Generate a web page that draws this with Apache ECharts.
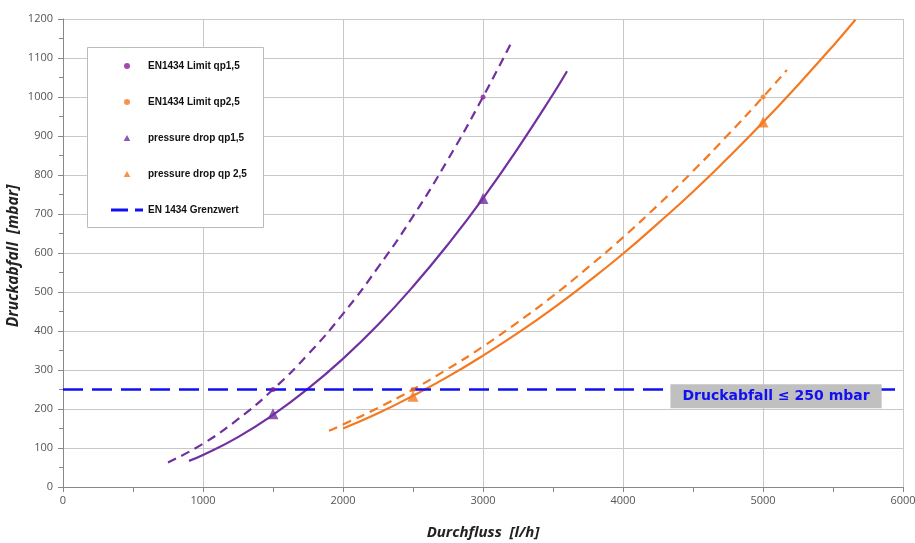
<!DOCTYPE html>
<html><head><meta charset="utf-8">
<script src="https://cdn.jsdelivr.net/npm/echarts@6/dist/echarts.min.js"></script>
<style>html,body{margin:0;padding:0;background:#fff}#c{width:915px;height:543px}</style>
</head><body><div id="c"></div>
<script>
// Read-off values (flow l/h, pressure drop mbar)
const limitQp15Curve = [[750,63],[1000,111],[1250,174],[1500,250],[1750,340],[2000,444],[2250,563],[2500,694],[2750,840],[3000,1000],[3200,1138]];
const dropQp15Curve = [[900,67],[1000,82],[1250,128],[1500,185],[1750,252],[2000,329],[2250,416],[2500,514],[2750,622],[3000,740],[3250,869],[3500,1007],[3600,1066]];
const limitQp25Curve = [[1900,144],[2000,160],[2250,203],[2500,250],[2750,303],[3000,360],[3250,423],[3500,490],[3750,563],[4000,640],[4250,723],[4500,810],[4750,903],[5000,1000],[5170,1069]];
const dropQp25Curve = [[2000,150],[2250,189],[2500,234],[2750,283],[3000,337],[3250,395],[3500,458],[3750,526],[4000,598],[4250,676],[4500,757],[4750,844],[5000,935],[5250,1031],[5500,1131],[5660,1198]];
const limitQp15Points = [[1500,250],[3000,1000]];
const limitQp25Points = [[2500,250],[5000,1000]];
const dropQp15Points = [[1500,188],[3000,740]];
const dropQp25Points = [[2500,233],[5000,936]];
const thresholdLine = [[0,250],[6000,250]];
const thresholdLabel = 'Druckabfall ≤ 250 mbar';
const thresholdLabelAt = [5093,233];
const yAxisTitle = 'Druckabfall  [mbar]';
const xAxisTitle = 'Durchfluss  [l/h]';

const purple = '#7030A0', orange = '#F47920', blue = '#1010F0';
const tri = 'path://M5,0 L10,9 L0,9 Z';
const dashIcon = 'path://M0,0h17v3h-17z M24,0h8v3h-8z';
const titleFont = {fontFamily:'Open Sans, sans-serif',fontStyle:'italic',fontWeight:'bold',fontSize:15,color:'#222'};
const chart = echarts.init(document.getElementById('c'));
chart.setOption({
  animation:false,
  textStyle:{fontFamily:'Liberation Sans, Arial, sans-serif'},
  grid:{left:63,right:12,top:19,bottom:56,containLabel:false,outerBoundsMode:'none'},
  xAxis:{type:'value',min:0,max:6000,interval:1000,
    name:xAxisTitle,nameLocation:'middle',nameGap:38,
    nameTextStyle:titleFont,
    axisLine:{lineStyle:{color:'#888'}},axisTick:{show:true,length:5,lineStyle:{color:'#888'}},
    minorTick:{show:true,splitNumber:2,length:5,lineStyle:{color:'#888'}},
    axisLabel:{color:'#555',fontSize:11,fontFamily:'Open Sans, sans-serif',margin:8,formatter:v=>String(v)},
    splitLine:{show:true,lineStyle:{color:'#c8c8c8'}}},
  yAxis:{type:'value',min:0,max:1200,interval:100,
    axisLine:{show:true,lineStyle:{color:'#888'}},axisTick:{show:true,length:5,lineStyle:{color:'#888'}},
    minorTick:{show:true,splitNumber:2,length:4,lineStyle:{color:'#888'}},
    axisLabel:{color:'#555',fontSize:11,fontFamily:'Open Sans, sans-serif',margin:10,formatter:v=>String(v)},
    splitLine:{show:true,lineStyle:{color:'#c8c8c8'}}},
  graphic:[
    {type:'rect',left:87,top:47,shape:{width:176,height:180},
      style:{fill:'#fff',stroke:'#bbb',lineWidth:1},z:90},
    {type:'text',x:14,y:256,rotation:Math.PI/2,
      style:{text:yAxisTitle,textAlign:'center',textVerticalAlign:'middle',fill:'#222',
        font:'italic bold 15.5px "Open Sans", sans-serif'},z:50}],
  legend:{orient:'vertical',left:111,top:61,padding:0,itemWidth:32,itemHeight:6,itemGap:26,z:100,symbolKeepAspect:true,
    textStyle:{fontSize:10,fontWeight:'bold',color:'#111'},
    data:[
      {name:'EN1434 Limit qp1,5',icon:'circle'},
      {name:'EN1434 Limit qp2,5',icon:'circle'},
      {name:'pressure drop qp1,5',icon:tri},
      {name:'pressure drop qp 2,5',icon:tri},
      {name:'EN 1434 Grenzwert',icon:dashIcon}]},
  series:[
    {type:'line',data:limitQp15Curve,smooth:true,symbol:'none',lineStyle:{color:purple,width:2.2,type:[9,6]},silent:true},
    {type:'line',data:dropQp15Curve,smooth:true,symbol:'none',lineStyle:{color:purple,width:2.2},silent:true},
    {type:'line',data:limitQp25Curve,smooth:true,symbol:'none',lineStyle:{color:orange,width:2.2,type:[9,6]},silent:true},
    {type:'line',data:dropQp25Curve,smooth:true,symbol:'none',lineStyle:{color:orange,width:2.2},silent:true},
    {name:'EN 1434 Grenzwert',type:'line',data:thresholdLine,symbol:'none',itemStyle:{color:blue},
      lineStyle:{color:blue,width:2.6,type:[20,9]},
      markPoint:{symbol:'rect',symbolSize:0,data:[{coord:thresholdLabelAt,value:thresholdLabel}],
        label:{show:true,formatter:thresholdLabel,color:blue,fontWeight:'bold',fontSize:14,
          backgroundColor:'#c0c0c0',padding:[5,12,5,12],fontFamily:'DejaVu Sans, sans-serif'}}},
    {name:'EN1434 Limit qp1,5',type:'scatter',data:limitQp15Points,symbol:'circle',symbolSize:5,itemStyle:{color:'#8B1A9A'},z:5},
    {name:'EN1434 Limit qp2,5',type:'scatter',data:limitQp25Points,symbol:'circle',symbolSize:5,itemStyle:{color:orange},z:5},
    {name:'pressure drop qp1,5',type:'scatter',data:dropQp15Points,symbol:'triangle',symbolSize:11,itemStyle:{color:purple},z:5},
    {name:'pressure drop qp 2,5',type:'scatter',data:dropQp25Points,symbol:'triangle',symbolSize:11,itemStyle:{color:orange},z:5}
  ]
});
</script></body></html>
